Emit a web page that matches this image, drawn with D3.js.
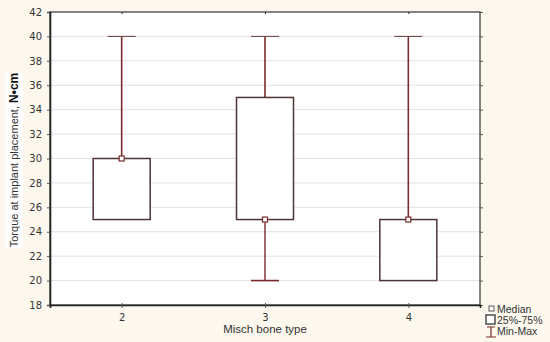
<!DOCTYPE html>
<html>
<head>
<meta charset="utf-8">
<script src="https://cdn.jsdelivr.net/npm/d3@7"></script>
<style>
  body { margin: 0; background: #fdf8ee; }
  svg { display: block; }
</style>
</head>
<body>
<svg id="chart" width="550" height="342"></svg>
<script>
// bone types and box statistics
let categories = ["2", "3", "4"];
let minValues = [25, 20, 20];
let q1Values = [25, 25, 20];
let medianValues = [30, 25, 25];
let q3Values = [30, 35, 25];
let maxValues = [40, 40, 40];
let yTicks = [18, 20, 22, 24, 26, 28, 30, 32, 34, 36, 38, 40, 42];

let config = {
    width: 550,
    height: 342,
    left: 50,
    right: 480,
    top: 12,
    bottom: 305,
    boxWidth: 57,
    capWidth: 28,
    boxColor: "#4e3434",
    capColor: "#6e4a4a",
    whiskerColor: "#7a2b2b"
};

let svg = d3.select("#chart");

let x = d3.scalePoint()
    .domain(categories)
    .range([config.left, config.right])
    .padding(0.5);

let y = d3.scaleLinear()
    .domain([18, 42])
    .range([config.bottom, config.top]);

// plot background
svg.append("rect")
    .attr("x", config.left)
    .attr("y", config.top)
    .attr("width", config.right - config.left)
    .attr("height", config.bottom - config.top)
    .attr("fill", "#ffffff");

// gridlines
svg.append("g")
    .selectAll("line")
    .data(yTicks.slice(1, -1))
    .enter().append("line")
    .attr("x1", config.left)
    .attr("x2", config.right)
    .attr("y1", (d) => y(d))
    .attr("y2", (d) => y(d))
    .attr("stroke", "#e2e2e2")
    .attr("stroke-width", 1);

let data = categories.map((c, i) => ({
    cat: c,
    min: minValues[i],
    q1: q1Values[i],
    med: medianValues[i],
    q3: q3Values[i],
    max: maxValues[i]
}));

let boxes = svg.append("g")
    .selectAll("g")
    .data(data)
    .enter().append("g");

// whiskers
boxes.append("line")
    .attr("x1", (d) => x(d.cat))
    .attr("x2", (d) => x(d.cat))
    .attr("y1", (d) => y(d.max))
    .attr("y2", (d) => y(d.q3))
    .attr("stroke", config.whiskerColor)
    .attr("stroke-width", 1.6);

boxes.filter((d) => d.min < d.q1)
    .append("line")
    .attr("x1", (d) => x(d.cat))
    .attr("x2", (d) => x(d.cat))
    .attr("y1", (d) => y(d.q1))
    .attr("y2", (d) => y(d.min))
    .attr("stroke", config.whiskerColor)
    .attr("stroke-width", 1.4);

// caps
boxes.append("line")
    .attr("x1", (d) => x(d.cat) - config.capWidth / 2)
    .attr("x2", (d) => x(d.cat) + config.capWidth / 2)
    .attr("y1", (d) => y(d.max))
    .attr("y2", (d) => y(d.max))
    .attr("stroke", config.capColor)
    .attr("stroke-width", 1.1);

boxes.filter((d) => d.min < d.q1)
    .append("line")
    .attr("x1", (d) => x(d.cat) - config.capWidth / 2)
    .attr("x2", (d) => x(d.cat) + config.capWidth / 2)
    .attr("y1", (d) => y(d.min))
    .attr("y2", (d) => y(d.min))
    .attr("stroke", config.whiskerColor)
    .attr("stroke-width", 1.6);

// boxes
boxes.append("rect")
    .attr("x", (d) => x(d.cat) - config.boxWidth / 2)
    .attr("y", (d) => y(d.q3))
    .attr("width", config.boxWidth)
    .attr("height", (d) => y(d.q1) - y(d.q3))
    .attr("fill", "#ffffff")
    .attr("stroke", config.boxColor)
    .attr("stroke-width", 1.5);

// median markers
boxes.append("rect")
    .attr("x", (d) => x(d.cat) - 2.5)
    .attr("y", (d) => y(d.med) - 2.5)
    .attr("width", 5)
    .attr("height", 5)
    .attr("fill", "#ffffff")
    .attr("stroke", config.whiskerColor)
    .attr("stroke-width", 1.2);

// frame
svg.append("rect")
    .attr("x", config.left)
    .attr("y", config.top)
    .attr("width", config.right - config.left)
    .attr("height", config.bottom - config.top)
    .attr("fill", "none")
    .attr("stroke", "#333")
    .attr("stroke-width", 1.2);

// left axis
let yAxis = svg.append("g")
    .attr("transform", `translate(${config.left},0)`)
    .call(d3.axisLeft(y).tickValues(yTicks).tickSize(3).tickPadding(5));
yAxis.select(".domain").attr("stroke", "#222").attr("stroke-width", 1.6);
yAxis.selectAll("line").attr("stroke", "#555");
yAxis.selectAll("text")
    .attr("font-family", "DejaVu Sans, Verdana, sans-serif")
    .attr("font-size", 10)
    .attr("fill", "#333");

// right ticks
let yRight = svg.append("g")
    .attr("transform", `translate(${config.right},0)`)
    .call(d3.axisRight(y).tickValues(yTicks).tickSize(3).tickFormat(""));
yRight.select(".domain").remove();
yRight.selectAll("line").attr("stroke", "#555");

// bottom axis
let xAxis = svg.append("g")
    .attr("transform", `translate(0,${config.bottom})`)
    .call(d3.axisBottom(x).tickSize(3).tickPadding(6));
xAxis.select(".domain").attr("stroke", "#222").attr("stroke-width", 1.6);
xAxis.selectAll("line").attr("stroke", "#555").attr("y1", -2);
xAxis.selectAll("text")
    .attr("font-family", "DejaVu Sans, Verdana, sans-serif")
    .attr("font-size", 10)
    .attr("fill", "#333");

// top ticks
let xTop = svg.append("g")
    .attr("transform", `translate(0,${config.top})`)
    .call(d3.axisTop(x).tickSize(2).tickFormat(""));
xTop.select(".domain").remove();
xTop.selectAll("line").attr("stroke", "#333").attr("y2", 2);

// x title
svg.append("text")
    .attr("x", (config.left + config.right) / 2)
    .attr("y", 333)
    .attr("text-anchor", "middle")
    .attr("font-family", "Liberation Sans, Arial, sans-serif")
    .attr("font-size", 11.5)
    .attr("fill", "#333")
    .text("Misch bone type");

// y title on white patch
svg.append("rect")
    .attr("x", 5)
    .attr("y", 73)
    .attr("width", 18)
    .attr("height", 175)
    .attr("fill", "#ffffff");

let yTitle = svg.append("text")
    .attr("transform", "translate(18,160) rotate(-90)")
    .attr("text-anchor", "middle")
    .attr("font-family", "Liberation Sans, Arial, sans-serif")
    .attr("font-size", 11)
    .attr("fill", "#333");
yTitle.append("tspan").text("Torque at implant placement, ");
yTitle.append("tspan").attr("font-weight", "bold").attr("font-size", 12).attr("fill", "#111").text("N•cm");

// legend
let legend = svg.append("g")
    .attr("font-family", "Liberation Sans, Arial, sans-serif")
    .attr("font-size", 10.5)
    .attr("fill", "#333");

legend.append("rect")
    .attr("x", 489).attr("y", 306).attr("width", 5).attr("height", 5)
    .attr("fill", "#fff").attr("stroke", "#555").attr("stroke-width", 1);
legend.append("text").attr("x", 497).attr("y", 313).text("Median");

legend.append("rect")
    .attr("x", 486).attr("y", 315).attr("width", 9).attr("height", 9)
    .attr("fill", "#fff").attr("stroke", "#333").attr("stroke-width", 1.3);
legend.append("text").attr("x", 497).attr("y", 324).text("25%-75%");

legend.append("path")
    .attr("d", "M487,327H495M491,327V337M486,337H496")
    .attr("fill", "none")
    .attr("stroke", config.whiskerColor)
    .attr("stroke-width", 1.2);
legend.append("text").attr("x", 497).attr("y", 335).text("Min-Max");
</script>
</body>
</html>
